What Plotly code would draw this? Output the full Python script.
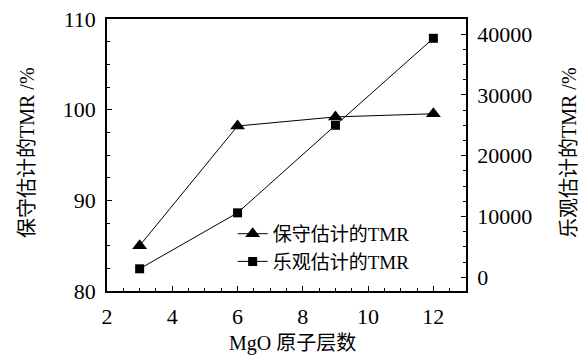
import plotly.graph_objects as go

layers = [3, 6, 9, 12]
conservative_tmr = [85.0, 98.2, 99.2, 99.55]
optimistic_tmr = [1400, 10600, 25000, 39300]

x_title = "MgO 原子层数"
y_title = "保守估计的TMR /%"
y2_title = "乐观估计的TMR /%"

FONT = '"Liberation Serif", "Noto Sans CJK SC", serif'

fig = go.Figure()
fig.add_trace(go.Scatter(
    x=layers, y=conservative_tmr, name="保守估计的TMR",
    mode="lines+markers",
    line=dict(color="black", width=1),
    marker=dict(symbol="triangle-up", size=13, color="black"),
))
fig.add_trace(go.Scatter(
    x=layers, y=optimistic_tmr, name="乐观估计的TMR",
    mode="lines+markers", yaxis="y2",
    line=dict(color="black", width=1),
    marker=dict(symbol="square", size=9, color="black"),
))

axis_common = dict(
    showgrid=False, zeroline=False, showline=True, linecolor="black", linewidth=1.5,
    ticks="inside", ticklen=5, tickcolor="black", automargin=False,
    ticklabelstandoff=5, ticklabeloverflow="allow",
    tickfont=dict(family=FONT, size=22, color="black"),
)

title_font = dict(family=FONT, size=20, color="black")

# the page body has an 8px default margin, so the figure is 8px smaller
fig.update_layout(
    width=579, height=348,
    margin=dict(l=99, r=121, t=11, b=65),
    paper_bgcolor="white", plot_bgcolor="white",
    font=dict(family=FONT, color="black"),
    showlegend=True,
    legend=dict(x=0.35, y=0.28, xanchor="left", yanchor="top",
                bgcolor="rgba(0,0,0,0)", font=dict(family=FONT, size=19),
                tracegroupgap=0, itemwidth=30),
    xaxis=dict(range=[2, 13], tick0=2, dtick=2, mirror=True,
               minor=dict(dtick=0.5, ticks="inside", ticklen=3, tickcolor="black"),
               **axis_common),
    yaxis=dict(range=[80, 110], tick0=80, dtick=10,
               minor=dict(dtick=2.5, ticks="inside", ticklen=3, tickcolor="black"),
               **axis_common),
    yaxis2=dict(range=[-2250, 42470], tick0=0, dtick=10000, overlaying="y", side="right",
                tickformat="d",
                minor=dict(dtick=2500, ticks="inside", ticklen=3, tickcolor="black"),
                **axis_common),
    annotations=[
        dict(text=x_title, xref="paper", yref="paper", x=0.5, y=0, xshift=6, yshift=-52,
             showarrow=False, font=title_font, xanchor="center", yanchor="middle"),
        dict(text=y_title, xref="paper", yref="paper", x=0, y=0.5, xshift=-80, yshift=2,
             showarrow=False, font=title_font, textangle=-90, xanchor="center", yanchor="middle"),
        dict(text=y2_title, xref="paper", yref="paper", x=1, y=0.5, xshift=103, yshift=2,
             showarrow=False, font=title_font, textangle=-90, xanchor="center", yanchor="middle"),
    ],
)

fig.write_html("out.html")
